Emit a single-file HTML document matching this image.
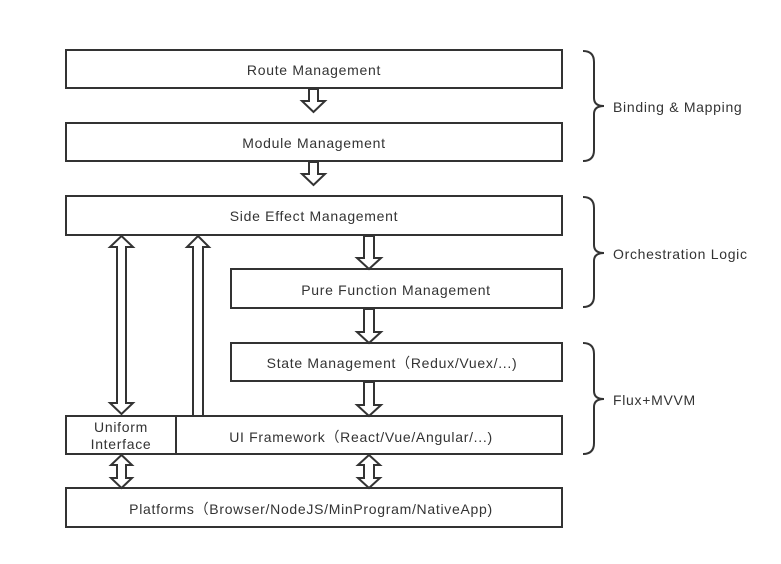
<!DOCTYPE html>
<html><head><meta charset="utf-8"><style>
html,body{margin:0;padding:0;background:#fff;}
svg{display:block;}
text{font-family:"Liberation Sans",sans-serif;font-size:14px;letter-spacing:0.7px;fill:#333;}
</style></head><body>
<svg width="781" height="564" viewBox="0 0 781 564" xmlns="http://www.w3.org/2000/svg">
<g fill="#fff" stroke="#333" stroke-width="2">
<rect x="66" y="50" width="496" height="38"/>
<rect x="66" y="123" width="496" height="38"/>
<rect x="66" y="196" width="496" height="39"/>
<rect x="231" y="269" width="331" height="39"/>
<rect x="231" y="343" width="331" height="38"/>
<rect x="66" y="416" width="110" height="38"/>
<rect x="176" y="416" width="386" height="38"/>
<rect x="66" y="488" width="496" height="39"/>
</g>
<g fill="#fff" stroke="#333" stroke-width="2" stroke-linejoin="miter">
<path d="M309,89 L318,89 L318,101 L325,101 L313.5,112 L302,101 L309,101 Z"/>
<path d="M309,162 L318,162 L318,174 L325,174 L313.5,185 L302,174 L309,174 Z"/>
<path d="M364,236 L374,236 L374,258 L381,258 L369,269 L357,258 L364,258 Z"/>
<path d="M364,309 L374,309 L374,332 L381,332 L369,343 L357,332 L364,332 Z"/>
<path d="M364,382 L374,382 L374,405 L381,405 L369,416 L357,405 L364,405 Z"/>
<path d="M121.5,236 L133,247 L126,247 L126,403 L133,403 L121.5,414 L110,403 L117,403 L117,247 L110,247 Z"/>
<path d="M198,236 L209,247 L203,247 L203,416 L193,416 L193,247 L187,247 Z"/>
<path d="M121.5,455 L132,465 L126,465 L126,478 L132,478 L121.5,488 L111,478 L117,478 L117,465 L111,465 Z"/>
<path d="M369,455 L380,465 L374,465 L374,478 L380,478 L369,488 L358,478 L364,478 L364,465 L358,465 Z"/>
</g>
<g fill="none" stroke="#333" stroke-width="2">
<path d="M583,51 Q594,51 594,62 L594,98 Q594,106 604,106 Q594,106 594,114 L594,150 Q594,161 583,161"/>
<path d="M583,197 Q594,197 594,208 L594,245 Q594,253 604,253 Q594,253 594,261 L594,296 Q594,307 583,307"/>
<path d="M583,343 Q594,343 594,354 L594,391 Q594,399 604,399 Q594,399 594,407 L594,443 Q594,454 583,454"/>
</g>
<g text-anchor="middle">
<text x="314" y="75">Route Management</text>
<text x="314" y="148">Module Management</text>
<text x="314" y="221">Side Effect Management</text>
<text x="396" y="295">Pure Function Management</text>
<text x="392" y="368">State Management（Redux/Vuex/...)</text>
<text x="121" y="432">Uniform</text>
<text x="121" y="449">Interface</text>
<text x="361" y="442">UI Framework（React/Vue/Angular/...)</text>
<text x="311" y="514">Platforms（Browser/NodeJS/MinProgram/NativeApp)</text>
</g>
<text x="613" y="112">Binding &amp; Mapping</text>
<text x="613" y="259">Orchestration Logic</text>
<text x="613" y="405">Flux+MVVM</text>
</svg>
</body></html>
